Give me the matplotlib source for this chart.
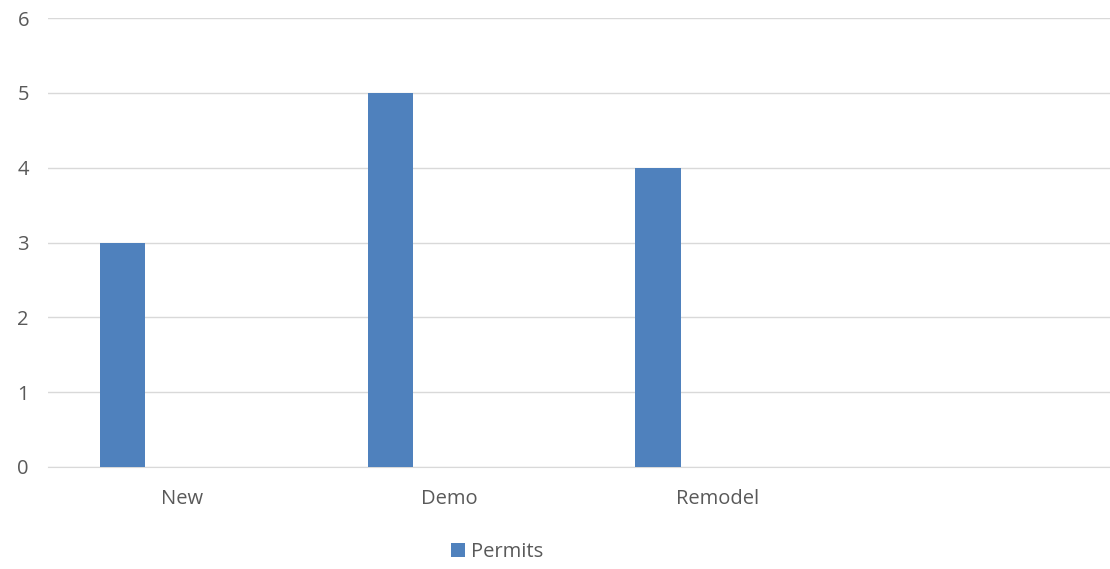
import numpy as np
import matplotlib.pyplot as plt

# Данные
categories = ['New', 'Demo', 'Remodel', '']
permits = [3, 5, 4, 0]
y_ticks = [0, 1, 2, 3, 4, 5, 6]

bar_color = '#4F81BD'
text_color = '#595959'
grid_color = '#D9D9D9'

plt.rcParams['font.family'] = ['Open Sans', 'DejaVu Sans']

fig = plt.figure(figsize=(11.1, 5.69), dpi=100)
ax = fig.add_axes([48 / 1110, 1 - 467 / 569, 1071 / 1110, (467 - 18) / 569])

x = np.arange(len(categories))
bar_w = 0.17
offset = -0.2215
ax.bar(x + offset, permits, width=bar_w, color=bar_color, label='Permits', zorder=3)

ax.set_xlim(-0.5, len(categories) - 0.5)
ax.set_ylim(0, 6)
ax.set_yticks(y_ticks)
ax.set_xticks(x)
ax.set_xticklabels(categories)

ax.yaxis.grid(True, color=grid_color, linewidth=1, zorder=0)
ax.xaxis.grid(False)
for side in ['top', 'right', 'left']:
    ax.spines[side].set_visible(False)
ax.spines['bottom'].set_color(grid_color)
ax.tick_params(axis='both', length=0, labelsize=14.5, colors=text_color)
ax.tick_params(axis='x', pad=16)
ax.tick_params(axis='y', pad=22)
for lbl in ax.get_yticklabels():
    lbl.set_horizontalalignment('left')

fig.legend(loc='center', bbox_to_anchor=(497 / 1110, 1 - 552 / 569), frameon=False,
           fontsize=14.5, labelcolor=text_color, handlelength=0.7, handleheight=0.7,
           handletextpad=0.3)

fig.savefig('out.png', dpi=100)
